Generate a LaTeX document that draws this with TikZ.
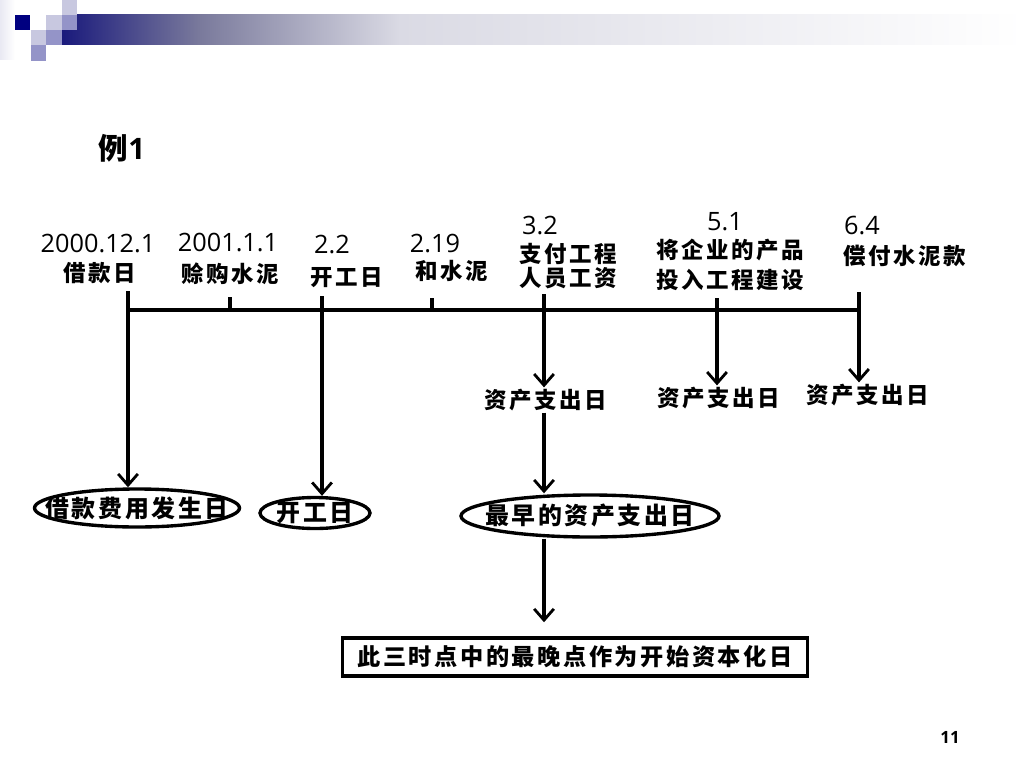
\documentclass[tikz,border=0pt]{standalone}
\usepackage{fontspec}
\setmainfont{Open Sans}
\newfontfamily\cjk[LetterSpace=11]{Noto Sans CJK SC}
\newfontfamily\cjkn{Noto Sans CJK SC}
\usetikzlibrary{shapes.geometric,arrows.meta}
\definecolor{hdrnavy}{HTML}{1A1A7C}
\definecolor{hdrmid}{HTML}{7A7A9C}
\definecolor{hdrpale}{HTML}{DADAE4}
\definecolor{sqdark}{HTML}{000080}
\definecolor{sqlight}{HTML}{C8C8E0}
\definecolor{sqmid}{HTML}{9494C8}
\tikzset{
  datum/.style={font=\fontsize{18}{20}\selectfont, inner sep=0pt},
  tag/.style={font=\cjk\bfseries\fontsize{16}{17}\selectfont, align=center, inner sep=1pt},
  axis/.style={line width=2.2pt},
  arr/.style={line width=2.2pt, -{Straight Barb[length=8pt,width=14pt,line width=2pt]}},
  oval/.style={ellipse, draw, line width=2.4pt, inner sep=0pt},
  ovaltext/.style={font=\cjk\bfseries\fontsize{17}{18}\selectfont, inner sep=0pt},
  result/.style={draw, line width=2.4pt, font=\cjk\bfseries\fontsize{16.5}{18}\selectfont}
}
\begin{document}
\begin{tikzpicture}[x=0.025cm,y=-0.025cm]
\useasboundingbox (0,0) rectangle (1024,768);
% header bar and squares
\shade[left color=sqlight!40, right color=white] (0,0) rectangle (15,60);
\shade[left color=hdrnavy, right color=hdrmid] (62,15) rectangle (200,45);
\shade[left color=hdrmid, right color=hdrpale] (200,15) rectangle (400,45);
\shade[left color=hdrpale, right color=white] (400,15) rectangle (1024,45);
\fill[sqdark] (15,15) rectangle (30,30);
\fill[sqlight] (46,15) rectangle (62,30);
\fill[sqmid] (62,15) rectangle (77,30);
\fill[sqlight] (62,0) rectangle (77,15);
\fill[sqlight] (31,30) rectangle (46,45);
\fill[sqmid] (46,30) rectangle (62,45);
\fill[sqmid] (31,45) rectangle (46,61);

% title
\node (title) at (122,148) {\cjkn\bfseries\fontsize{21}{24}\selectfont 例\rmfamily\bfseries 1};

% dates and events
\node[datum] (d1) at (98,244) {2000.12.1};
\node[tag] (e1) at (100,273) {借款日};
\node[datum] (d2) at (228,243) {2001.1.1};
\node[tag] (e2) at (230,274) {赊购水泥};
\node[datum] (d3) at (332,245) {2.2};
\node[tag] (e3) at (347,278) {开工日};
\node[datum] (d4) at (435,244) {2.19};
\node[tag] (e4) at (452,271) {和水泥};
\node[datum] (d5) at (540,226) {3.2};
\node[tag] (e5) at (568,266) {支付工程\\人员工资};
\node[datum] (d6) at (725,222) {5.1};
\node[tag] (e6) at (730,265) {将企业的产品\\[4pt]投入工程建设};
\node[datum] (d7) at (862,226) {6.4};
\node[tag] (e7) at (905,256) {偿付水泥款};

% time axis
\coordinate (k1) at (128,291);
\coordinate (k2) at (230,297);
\coordinate (k3) at (322,296);
\coordinate (k4) at (432,298);
\coordinate (k5) at (544,294);
\coordinate (k6) at (717,298);
\coordinate (k7) at (859,292);
\draw[axis] (128,310) -- (860,310);
\draw[axis] (k2) -- (230,310);
\draw[axis] (k4) -- (432,310);

% outcomes
\node[tag] (zc1) at (546,400) {资产支出日};
\node[tag] (zc2) at (719,398) {资产支出日};
\node[tag] (zc3) at (868,395) {资产支出日};
\node[oval, minimum width=205*0.025cm, minimum height=38*0.025cm] (jkfy) at (137,508) {};
\node[ovaltext] at (jkfy) {借款费用发生日};
\node[oval, minimum width=110*0.025cm, minimum height=31*0.025cm] (kg) at (315,513) {};
\node[ovaltext] at (kg) {开工日};
\node[oval, minimum width=258*0.025cm, minimum height=42*0.025cm] (zao) at (590,516) {};
\node[ovaltext] at (zao) {最早的资产支出日};
\node[result, minimum width=465*0.025cm, minimum height=38*0.025cm] (jg) at (575,657) {此三时点中的最晚点作为开始资本化日};

% arrows
\draw[arr] (k1) -- (k1 |- jkfy.north);
\draw[arr] (k3) -- (k3 |- kg.north);
\draw[arr] (k5) -- (k5 |- zc1.north);
\draw[arr] (k6) -- (k6 |- zc2.north);
\draw[arr] (k7) -- (k7 |- zc3.north);
\draw[arr] (k5 |- zc1.south) -- (k5 |- zao.north);
\draw[arr, shorten >=10pt] (k5 |- zao.south) -- (k5 |- jg.north);

% page number
\node (pg) at (950,737) {\bfseries\fontsize{12}{14}\selectfont 11};
\end{tikzpicture}
\end{document}
